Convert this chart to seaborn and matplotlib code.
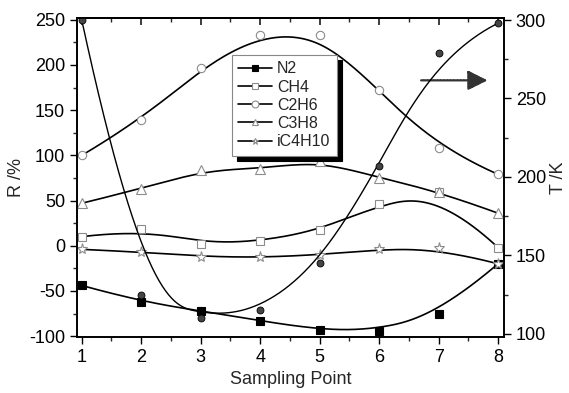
import numpy as np
import matplotlib
matplotlib.use("Agg")
import matplotlib.pyplot as plt
from matplotlib.lines import Line2D
from matplotlib.ticker import MultipleLocator
import seaborn as sns

sns.set_theme(style="ticks")
plt.rcParams['font.family'] = ['Liberation Sans', 'DejaVu Sans']
plt.rcParams['axes.unicode_minus'] = False

# data
points = [1, 2, 3, 4, 5, 6, 7, 8]
n2 = [-44, -62, -72, -83, -93, -94, -76, -20]
ch4 = [10, 18, 2, 5, 17, 46, 59, -2]
c2h6 = [100, 139, 197, 233, 233, 172, 108, 79]
c3h8 = [47, 63, 84, 85, 94, 75, 60, 36]
ic4h10 = [-4, -7, -12, -13, -10, -4, -3, -20]
temp = [300, 125, 110, 115, 145, 207, 279, 298]


def bspline(xs, ys, k=3, num=300):
    # clamped cubic B-spline using the points as control points
    xs = np.asarray(xs, float)
    ys = np.asarray(ys, float)
    m = len(xs) - k
    knots = np.concatenate([np.zeros(k), np.arange(m + 1), np.full(k, m)]).astype(float)
    t = np.linspace(0, m - 1e-9, num)
    B = np.zeros((num, len(knots) - 1))
    for i in range(len(knots) - 1):
        B[:, i] = (knots[i] <= t) & (t < knots[i + 1])
    for p in range(1, k + 1):
        nb = np.zeros((num, B.shape[1] - 1))
        for i in range(B.shape[1] - 1):
            d1 = knots[i + p] - knots[i]
            d2 = knots[i + p + 1] - knots[i + 1]
            a = (t - knots[i]) / d1 * B[:, i] if d1 > 0 else 0
            b = (knots[i + p + 1] - t) / d2 * B[:, i + 1] if d2 > 0 else 0
            nb[:, i] = a + b
        B = nb
    return B @ xs, B @ ys


fig = plt.figure(figsize=(5.69, 3.93), dpi=100)
ax = fig.add_axes([77 / 569, 56 / 393, 427 / 569, 319 / 393])
ax2 = ax.twinx()

gray = '#8c8c8c'
series = [
    ('N2', n2, 's', 'black', 'black', 6),
    ('CH4', ch4, 's', 'white', gray, 6),
    ('C2H6', c2h6, 'o', 'white', gray, 6),
    ('C3H8', c3h8, '^', 'white', gray, 7),
    ('iC4H10', ic4h10, '*', 'white', gray, 8),
]

handles = []
for name, vals, mk, fc, ec, ms in series:
    cx, cy = bspline(points, vals)
    sns.lineplot(x=cx, y=cy, ax=ax, color='black', lw=1.2, sort=False, estimator=None, zorder=2)
    ax.plot(points, vals, ls='none', marker=mk, ms=ms, mfc=fc, mec=ec, mew=0.8, zorder=3)
    handles.append(Line2D([], [], color='black', lw=1.2, marker=mk, ms=5, mfc=fc, mec=ec, mew=0.8, label=name))

tx, ty = bspline(points, temp)
sns.lineplot(x=tx, y=ty, ax=ax2, color='black', lw=1.0, sort=False, estimator=None)
ax2.plot(points, temp, ls='none', marker='o', ms=5, mfc='#444444', mec='black', mew=0.6)

ax.set_xlim(0.92, 8.1)
ax.set_ylim(-101, 252)
ax2.set_ylim(98, 301.3)

ax.xaxis.set_major_locator(MultipleLocator(1))
ax.xaxis.set_minor_locator(MultipleLocator(0.5))
ax.yaxis.set_major_locator(MultipleLocator(50))
ax.yaxis.set_minor_locator(MultipleLocator(25))
ax2.yaxis.set_major_locator(MultipleLocator(50))
ax2.yaxis.set_minor_locator(MultipleLocator(25))

for a in (ax, ax2):
    a.tick_params(which='major', length=5, width=1, direction='out', labelsize=13, colors='black')
    a.tick_params(which='minor', length=3, width=1, direction='out')
    for s in a.spines.values():
        s.set_linewidth(1.2)
        s.set_color('black')

top = ax.secondary_xaxis('top')
top.xaxis.set_major_locator(MultipleLocator(1))
top.xaxis.set_minor_locator(MultipleLocator(0.5))
top.tick_params(which='major', direction='in', length=5, labeltop=False)
top.tick_params(which='minor', direction='in', length=3)

ax.set_xlabel('Sampling Point', fontsize=13, labelpad=4)
ax.set_ylabel('R /%', fontsize=13, labelpad=3)
ax2.set_ylabel('T /K', fontsize=13, labelpad=3)

leg = ax.legend(handles=handles, loc='upper left', bbox_to_anchor=(0.362, 0.884), borderaxespad=0,
                fontsize=11.5, labelspacing=0.2, handlelength=2.1, handletextpad=0.35, borderpad=0.4,
                frameon=True, fancybox=False, framealpha=1, edgecolor='#888888',
                shadow={'ox': 3.6, 'oy': -3.6, 'facecolor': 'black', 'edgecolor': 'black', 'alpha': 1})
leg.get_frame().set_linewidth(0.8)
leg.set_zorder(10)

ax.annotate('', xy=(7.87, 183), xytext=(6.66, 183),
            arrowprops=dict(arrowstyle='-|>', color='#333333', lw=1.6, mutation_scale=30,
                            linestyle=(0, (1, 0.5))))

fig.savefig('out.png', dpi=100)
